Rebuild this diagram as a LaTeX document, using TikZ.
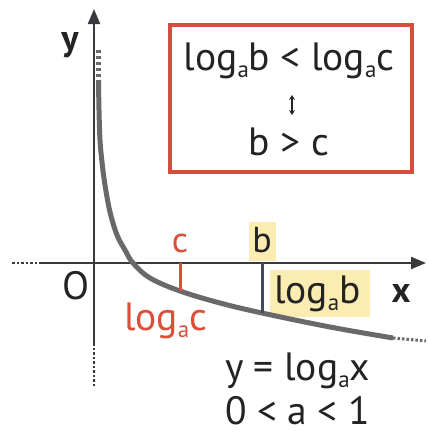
\documentclass[tikz,border=0pt]{standalone}
\usepackage{fontspec}
\setmainfont{PT Sans}
\usetikzlibrary{arrows.meta}
\definecolor{boxred}{RGB}{212,78,62}
\definecolor{txtred}{RGB}{220,78,58}
\definecolor{curvegray}{RGB}{105,105,108}
\definecolor{axisgray}{RGB}{58,58,62}
\definecolor{bline}{RGB}{70,74,88}
\definecolor{hl}{RGB}{251,236,178}
\definecolor{txtdark}{RGB}{35,35,35}
\newcommand\lsub[1]{\raisebox{-0.2em}{\fontsize{23}{23}\selectfont #1}}
\begin{document}
\begin{tikzpicture}[x=1pt,y=-1pt,
  every node/.style={inner sep=0pt,outer sep=0pt,text=txtdark},
  big/.style={font=\fontsize{39.5}{44}\selectfont},
  mid/.style={font=\fontsize{36}{40}\selectfont},
  axlab/.style={font=\fontsize{36}{40}\selectfont\bfseries},
  axisline/.style={axisgray,line width=2.2pt},
  dotline/.style={dash pattern=on 2.5pt off 2pt},
  tip/.style={-{Triangle[length=15pt,width=12pt]}},
  curveline/.style={curvegray,line width=5pt},
  hlbox/.style={fill=hl}]
\useasboundingbox (0,0) rectangle (428,434);
% highlights
\fill[hl] (249,222) rectangle (276,261);
\fill[hl] (270,270) rectangle (370,317);
% axes
\coordinate (xs) at (12,263);
\coordinate (x0) at (40,263);
\coordinate (xe) at (426,263);
\coordinate (ys) at (94,386);
\coordinate (y0) at (94,345);
\coordinate (ye) at (94,9);
\draw[axisline,dotline] (xs) -- (x0);
\draw[axisline,tip] (x0) -- (xe);
\draw[axisline,dotline] (ys) -- (y0);
\draw[axisline,tip] (y0) -- (ye);
% curve
\coordinate (ct) at (98.5,50);
\coordinate (c0) at (98.5,80);
\coordinate (cc) at (180,291);
\coordinate (cb) at (262,313);
\coordinate (c1) at (393,338);
\coordinate (c2) at (426,341);
\draw[curveline,dash pattern=on 3pt off 3pt] (ct) -- (c0);
\draw[curveline] plot[smooth,tension=0.6] coordinates {(98.5,80) (99,110) (100,140) (102,162) (105,185) (110,212) (117,235) (125,250) (133,263) (150,278) (180,291) (220,303) (262,313) (330,327) (393,338)};
\draw[curveline,line width=3pt,dotline] (c1) -- (c2);
% vertical markers
\coordinate (xc) at (180,263);
\coordinate (xb) at (262,263);
\draw[txtred,line width=3pt] (xc) -- (cc);
\draw[bline,line width=3pt] (xb) -- (cb);
% labels
\node[axlab,anchor=base] (ylab) at (70,50) {y};
\node[axlab,anchor=base] (xlab) at (401,302) {x};
\node[big,anchor=base] (O) at (76,299) {O};
\node[mid,anchor=base,text=txtred] (clab) at (180,252) {c};
\node[mid,anchor=base] (blab) at (262,252) {b};
\node[big,anchor=base west] (logb) at (274,303) {log\lsub{a}b};
\node[big,anchor=base west,text=txtred] (logc) at (124,330) {log\lsub{a}c};
% box
\node[draw=boxred,line width=4pt,minimum width=242pt,minimum height=147pt] (box) at (291,98.5) {};
\node[big,anchor=base] (l1) at (289,70) {log\lsub{a}b < log\lsub{a}c};
\node[big,anchor=base] (l3) at (289,155) {b > c};
\coordinate (aa) at (292,95);
\coordinate (ab) at (292,115);
\draw[txtdark,line width=1.2pt,{Stealth[length=5pt,width=6pt]}-{Stealth[length=5pt,width=6pt]}] (aa) -- (ab);
% formula
\node[big,anchor=base west] (f1) at (225,380) {y = log\lsub{a}x};
\node[big,anchor=base west] (f2) at (225,424) {0 < a < 1};
\end{tikzpicture}
\end{document}
